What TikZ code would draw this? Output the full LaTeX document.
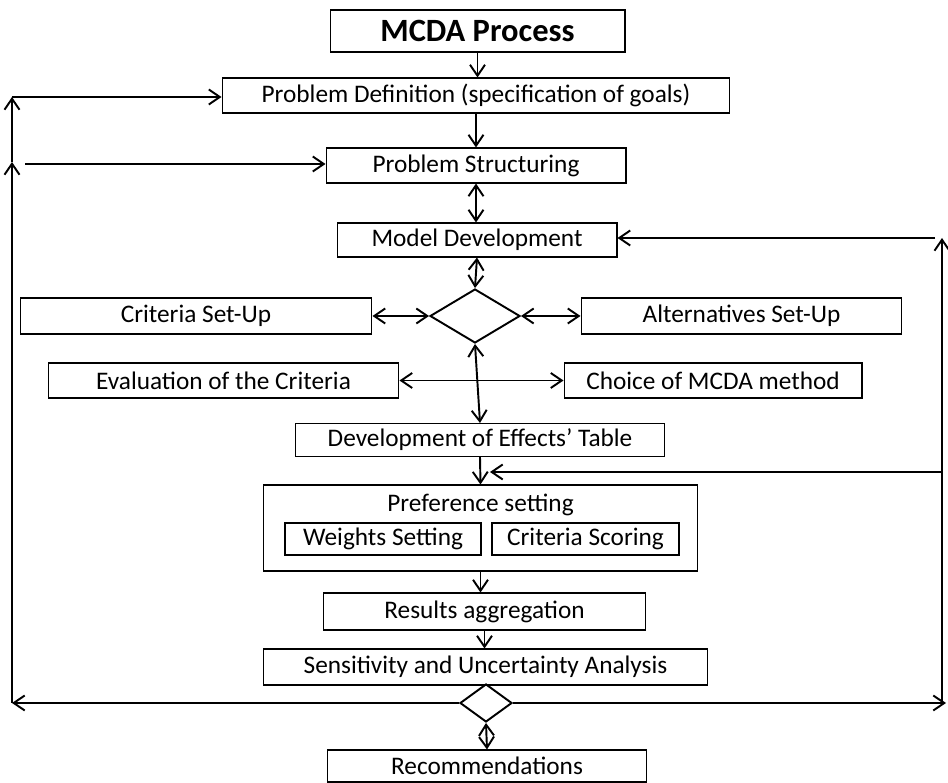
\documentclass[tikz,border=0pt]{standalone}
\usepackage{fontspec}
\setmainfont{Carlito}
\usetikzlibrary{arrows.meta, shapes.geometric}
\tikzset{
  box/.style={draw, line width=0.6pt, inner sep=0pt, minimum height=0.7cm},
  gate/.style={draw, diamond, line width=1.1pt, inner sep=0pt},
  link/.style={line width=1.1pt},
}

\begin{document}
\begin{tikzpicture}[>={Straight Barb[length=2.2mm,width=3mm]}, x=0.02cm, y=-0.02cm,
    font=\fontsize{14.4}{17}\selectfont]
  \useasboundingbox (0,0) rectangle (948,783);
  % main column
  \node[box, minimum width=5.9cm, minimum height=0.84cm,
        font=\fontsize{18.5}{22}\selectfont\bfseries] (mcda) at (477.5,31) {MCDA Process};
  \node[box, minimum width=10.16cm] (pdef) at (476,95.5) {Problem Definition (specification of goals)};
  \node[box, minimum width=6cm] (pstr) at (476,165.5) {Problem Structuring};
  \node[box, minimum width=5.6cm, minimum height=0.68cm] (model) at (477,240) {Model Development};
  \node[gate, minimum width=1.8cm, minimum height=1.08cm] (hub) at (475,316) {};
  \node[box, minimum width=7.04cm, minimum height=0.72cm] (crit) at (196,316) {Criteria Set-Up};
  \node[box, minimum width=6.42cm, minimum height=0.72cm] (alt) at (741.5,316) {Alternatives Set-Up};
  \node[box, minimum width=7.02cm] (eval) at (223.5,380.5) {Evaluation of the Criteria};
  \node[box, minimum width=5.96cm] (choice) at (713,380.5) {Choice of MCDA method};
  \node[box, minimum width=7.4cm, minimum height=0.66cm] (effects) at (480,440) {Development of Effects’ Table};
  % preference block
  \node[box, minimum width=8.7cm, minimum height=1.72cm] (pref) at (480.5,528) {};
  \node[anchor=north, inner sep=0pt] (preflbl) at ([yshift=-0.18cm]pref.north) {Preference setting};
  \node[box, minimum width=3.92cm, minimum height=0.64cm] (weights) at (383,539) {Weights Setting};
  \node[box, minimum width=3.74cm, minimum height=0.64cm] (scoring) at (585.5,539) {Criteria Scoring};
  \node[box, minimum width=6.46cm, minimum height=0.74cm] (results) at (484.5,611.5) {Results aggregation};
  \node[box, minimum width=8.9cm, minimum height=0.72cm] (sens) at (485.5,667) {Sensitivity and Uncertainty Analysis};
  \node[gate, minimum width=1.04cm, minimum height=0.76cm] (check) at (486,703) {};
  \node[box, minimum width=6.4cm, minimum height=0.64cm] (reco) at (487,766) {Recommendations};

  % feedback ends
  \coordinate (lend) at (12,703);
  \coordinate (lmid) at (12,162);
  \coordinate (ltop) at (12,97);
  \coordinate (lpstr) at (25,164);
  \coordinate (rend) at (946,703);
  \coordinate (rbot) at (942,703);
  \coordinate (rtop) at (942,238);
  \coordinate (rmodel) at (935,238);
  \coordinate (rmid) at (942,472);
  \coordinate (effin) at (490,472);

  % main arrows
  \draw[link,->] (mcda.south) -- (mcda.south |- pdef.north);
  \draw[link,->] (pdef.south) -- (pdef.south |- pstr.north);
  \draw[link,<->] (pstr.south) -- (pstr.south |- model.north);
  \draw[link,<->] (model.south) -- (hub.north);
  \draw[link,<->] (crit.east) -- (hub.west);
  \draw[link,<->] (hub.east) -- (alt.west);
  \draw[link,<->] (eval.east) -- (choice.west);
  \draw[link,<->] (hub.south) -- (effects.north);
  \draw[link,->] (effects.south) -- (pref.north);
  \draw[link,->] (pref.south) -- (pref.south |- results.north);
  \draw[link,->] (results.south) -- (results.south |- sens.north);
  \draw[link,<->] (check.south) -- (reco.north);

  % left loop
  \draw[link,->] (check.west) -- (lend);
  \draw[link,->] (lend) -- (lmid);
  \draw[link,->] (lmid) -- (ltop);
  \draw[link,->] (ltop) -- (ltop -| pdef.west);
  \draw[link,->] (lpstr) -- (lpstr -| pstr.west);

  % right loop
  \draw[link,->] (check.east) -- (rend);
  \draw[link,->] (rbot) -- (rtop);
  \draw[link,->] (rmodel) -- (rmodel -| model.east);
  \draw[link,->] (rmid) -- (effin);
\end{tikzpicture}
\end{document}
